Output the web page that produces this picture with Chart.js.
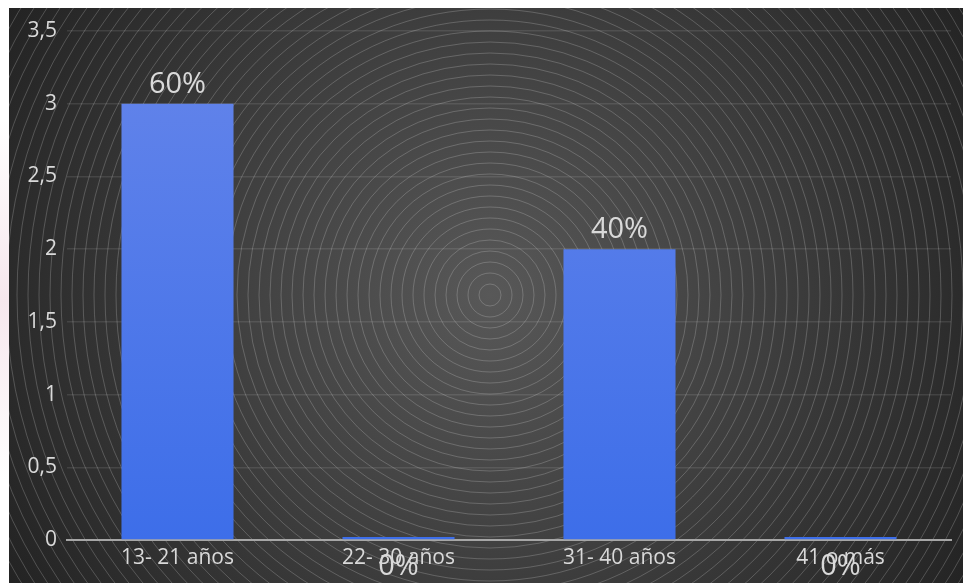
<!DOCTYPE html>
<html>
<head>
<meta charset="utf-8">
<script src="https://cdn.jsdelivr.net/npm/chart.js@4/dist/chart.umd.min.js"></script>
<style>
  html, body { margin: 0; padding: 0; background: #ffffff; }
  #wrap { width: 963px; height: 583px; position: relative; }
</style>
</head>
<body>
<div id="wrap"><canvas id="c" width="963" height="583"></canvas></div>
<script>
const categories = ["13- 21 años", "22- 30 años", "31- 40 años", "41 o más"];
const values = [3, 0, 2, 0];
const valueLabels = ["60%", "0%", "40%", "0%"];
const yTicks = [0, 0.5, 1, 1.5, 2, 2.5, 3, 3.5];

const FONT = "'Open Sans', Lato, sans-serif";

const bgPlugin = {
  id: 'bg',
  beforeDraw(chart) {
    const ctx = chart.ctx;
    const W = chart.width, H = chart.height;
    ctx.save();
    ctx.fillStyle = '#ffffff';
    ctx.fillRect(0, 0, W, H);
    // faint pink watermark glow on the left edge
    const pg = ctx.createLinearGradient(0, 120, 0, 480);
    pg.addColorStop(0, 'rgba(240,215,225,0)');
    pg.addColorStop(0.5, 'rgba(240,215,225,0.6)');
    pg.addColorStop(1, 'rgba(240,215,225,0)');
    ctx.fillStyle = pg;
    ctx.fillRect(0, 120, 9, 360);
    const x0 = 9, y0 = 8;
    const cx = 490, cy = 295;
    const g = ctx.createRadialGradient(cx, cy, 0, cx, cy, 560);
    g.addColorStop(0, '#585858');
    g.addColorStop(0.5, '#3e3e3e');
    g.addColorStop(1, '#232323');
    ctx.fillStyle = g;
    ctx.fillRect(x0, y0, W - x0, H - y0);
    ctx.beginPath();
    ctx.rect(x0, y0, W - x0, H - y0);
    ctx.clip();
    ctx.strokeStyle = 'rgba(220,220,220,0.30)';
    ctx.lineWidth = 0.8;
    for (let r = 11; r < 720; r += 11) {
      ctx.beginPath();
      ctx.arc(cx, cy, r, 0, Math.PI * 2);
      ctx.stroke();
    }
    ctx.restore();
  }
};

const labelPlugin = {
  id: 'valLabels',
  afterDatasetsDraw(chart) {
    const ctx = chart.ctx;
    const meta = chart.getDatasetMeta(0);
    const yScale = chart.scales.y;
    ctx.save();
    ctx.font = "29px " + FONT;
    ctx.fillStyle = '#d9d9d9';
    ctx.textAlign = 'center';
    meta.data.forEach((bar, i) => {
      const v = values[i];
      if (v > 0) {
        ctx.textBaseline = 'alphabetic';
        ctx.fillText(valueLabels[i], bar.x, yScale.getPixelForValue(v) - 11);
      } else {
        ctx.textBaseline = 'middle';
        ctx.fillText(valueLabels[i], bar.x, yScale.getPixelForValue(0) + 27);
      }
    });
    ctx.restore();
  }
};

const ctx = document.getElementById('c').getContext('2d');
new Chart(ctx, {
  type: 'bar',
  data: {
    labels: categories,
    datasets: [{
      data: values,
      backgroundColor: (c) => {
        const area = c.chart.chartArea;
        if (!area) return '#4f78e8';
        const g = c.chart.ctx.createLinearGradient(0, area.top, 0, area.bottom);
        g.addColorStop(0, '#6585ea');
        g.addColorStop(1, '#3d6ee9');
        return g;
      },
      borderWidth: 0,
      minBarLength: 3,
      categoryPercentage: 1.0,
      barPercentage: 0.507
    }]
  },
  options: {
    responsive: false,
    animation: false,
    devicePixelRatio: 1,
    layout: { padding: { left: 0, right: 12, top: 31, bottom: 0 } },
    plugins: { legend: { display: false }, tooltip: { enabled: false } },
    scales: {
      x: {
        grid: { display: false, drawTicks: false },
        border: { display: true, color: '#a6a6a6', width: 2 },
        ticks: {
          color: '#d9d9d9',
          font: { family: FONT, size: 21 },
          padding: 5,
          maxRotation: 0
        },
        afterFit(s) { s.height = 43; }
      },
      y: {
        min: 0, max: 3.5,
        afterBuildTicks(s) { s.ticks = yTicks.map(v => ({ value: v })); },
        grid: { color: 'rgba(255,255,255,0.10)', lineWidth: 1.5, drawTicks: false },
        border: { display: false },
        ticks: {
          color: '#d9d9d9',
          font: { family: FONT, size: 21 },
          padding: 10,
          callback: (v) => String(v).replace('.', ',')
        },
        afterFit(s) { s.width = 67; }
      }
    }
  },
  plugins: [bgPlugin, labelPlugin]
});
</script>
</body>
</html>
